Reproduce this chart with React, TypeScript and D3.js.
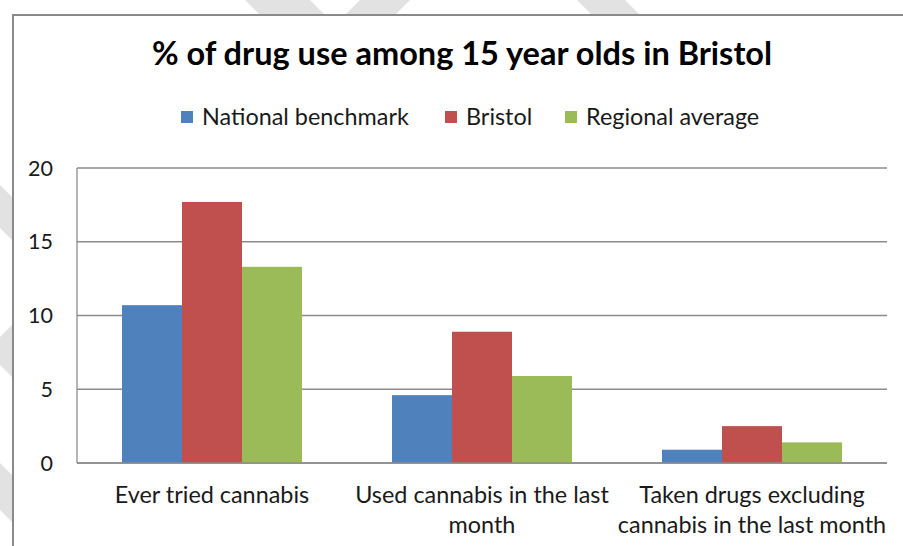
import React from "react";
import * as d3 from "d3";

const categories: string[][] = [
  ["Ever tried cannabis"],
  ["Used cannabis in the last", "month"],
  ["Taken drugs excluding", "cannabis in the last month"],
];
const seriesNames = ["National benchmark", "Bristol", "Regional average"];
const nationalBenchmark = [10.7, 4.6, 0.9];
const bristol = [17.7, 8.9, 2.5];
const regionalAverage = [13.3, 5.9, 1.4];
const seriesValues = [nationalBenchmark, bristol, regionalAverage];
const seriesColors = ["#4F81BD", "#C0504D", "#9BBB59"];
const yTicks = [0, 5, 10, 15, 20];
const title = "% of drug use among 15 year olds in Bristol";

const W = 903;
const H = 546;
const FONT = "Lato, 'Noto Sans', sans-serif";

// background watermark bands (decoration only)
const watermark: [number, number][][] = [
  [[225, -20], [290, -20], [330, 20], [265, 20]],
  [[380, -20], [430, -20], [390, 20], [340, 20]],
  [[557, -20], [605, -20], [645, 20], [597, 20]],
  [[-20, 165], [20, 205], [20, 248], [-20, 208]],
  [[-20, 357], [20, 317], [20, 385], [-20, 345]],
  [[-20, 443], [20, 483], [20, 530], [-20, 490]],
];

export default function App() {
  const left = 77, right = 887, top = 168, bottom = 463;
  const y = d3.scaleLinear().domain([0, 20]).range([bottom, top]);
  const catKeys = categories.map((c) => c.join(" "));
  const x0 = d3.scaleBand<string>().domain(catKeys).range([left, right]).paddingInner(1 / 3).paddingOuter(1 / 6);
  const x1 = d3.scaleBand<string>().domain(seriesNames).range([0, x0.bandwidth()]);

  const legendX = [181, 445, 565];

  return (
    <svg width={W} height={H} style={{ position: "absolute", left: 0, top: 0, background: "#fff" }}>
      <rect x={0} y={0} width={W} height={H} fill="#fff" />
      {watermark.map((p, i) => (
        <polygon key={i} points={p.map((q) => q.join(",")).join(" ")} fill="#e2e2e2" />
      ))}
      <rect x={13} y={15} width={W} height={H} fill="#fff" stroke="#8a8a8a" strokeWidth={2} />

      <text x={462} y={65} textAnchor="middle" fontFamily={FONT} fontWeight="bold" fontSize={32.5} fill="#000">
        {title}
      </text>

      {seriesNames.map((s, i) => (
        <g key={s}>
          <rect x={legendX[i]} y={111} width={12} height={12} fill={seriesColors[i]} />
          <text x={legendX[i] + 21} y={125} fontFamily={FONT} fontSize={23.4} fill="#1a1a1a">
            {s}
          </text>
        </g>
      ))}

      {yTicks.map((t) => (
        <g key={t}>
          <line x1={left} x2={right} y1={y(t)} y2={y(t)} stroke="#8c8c8c" strokeWidth={1.3} />
          <text x={53} y={y(t)} dy="0.36em" textAnchor="end" fontFamily={FONT} fontSize={21.5} fill="#1a1a1a">
            {t}
          </text>
        </g>
      ))}
      <line x1={left} x2={left} y1={top} y2={bottom} stroke="#8c8c8c" strokeWidth={1.3} />

      {catKeys.map((c, ci) => (
        <g key={c}>
          {seriesNames.map((s, si) => (
            <rect
              key={s}
              x={(x0(c) as number) + (x1(s) as number)}
              y={y(seriesValues[si][ci])}
              width={x1.bandwidth()}
              height={bottom - y(seriesValues[si][ci])}
              fill={seriesColors[si]}
            />
          ))}
          {categories[ci].map((line, li) => (
            <text
              key={li}
              x={(x0(c) as number) + x0.bandwidth() / 2}
              y={503 + li * 30}
              textAnchor="middle"
              fontFamily={FONT}
              fontSize={23.4}
              fill="#1a1a1a"
            >
              {line}
            </text>
          ))}
        </g>
      ))}
      <line x1={left} x2={right} y1={bottom} y2={bottom} stroke="#8c8c8c" strokeWidth={1.3} />
    </svg>
  );
}
